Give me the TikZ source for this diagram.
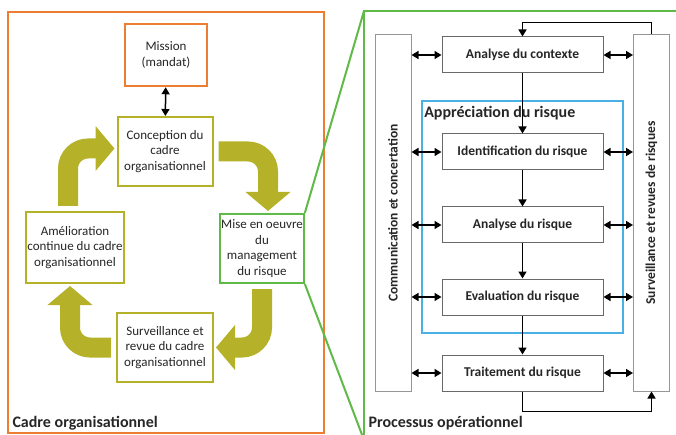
\documentclass[tikz,border=0pt]{standalone}
\usepackage{fontspec}
\setmainfont{Carlito}
\usetikzlibrary{arrows.meta}

\definecolor{cadreorange}{RGB}{237,125,49}
\definecolor{cycleolive}{RGB}{181,178,42}
\definecolor{processgreen}{RGB}{96,186,72}
\definecolor{apprecblue}{RGB}{72,176,226}
\definecolor{boxgray}{RGB}{105,105,105}
\definecolor{sidegray}{RGB}{150,150,150}

\tikzset{
  cyclebox/.style={draw=cycleolive, line width=2pt, fill=white, align=center,
    inner sep=1pt, minimum width=95pt, minimum height=69pt, text=black!85},
  cyclearrow/.style={cycleolive, line width=20pt, rounded corners=20pt,
    -{Triangle[length=19pt,width=44pt]}, shorten <=5pt, shorten >=2pt},
  boldtext/.style={font=\bfseries\fontsize{13.5}{16}\selectfont, text=black!85},
  titletext/.style={font=\bfseries\fontsize{16}{18}\selectfont, text=black!85},
  stepbox/.style={draw=boxgray, line width=1pt, fill=white, boldtext,
    minimum width=161pt, minimum height=36pt},
  sidebox/.style={draw=sidegray, line width=1pt, minimum width=36pt,
    minimum height=356pt},
  flow/.style={line width=1.5pt, -{Triangle[length=7pt,width=8pt]}},
  twoway/.style={line width=1.5pt,
    {Triangle[length=7pt,width=8pt]}-{Triangle[length=7pt,width=8pt]}}
}

\begin{document}
\begin{tikzpicture}[x=1pt, y=-1pt, font=\fontsize{13}{15.5}\selectfont]
  \useasboundingbox (0,0) rectangle (676,435);
  \clip (0,0) rectangle (676,435);

  %%%%%%%%%%%%%%%%%%%%%%%%%%%%%%%%%%%%%%%%%%%%%%
  %%% Cadre organisationnel (left part)
  %%%%%%%%%%%%%%%%%%%%%%%%%%%%%%%%%%%%%%%%%%%%%%
  \draw[cadreorange, line width=2.5pt] (8,12) rectangle (324,433);

  \node[draw=cadreorange, line width=2.5pt, fill=white, align=center,
    minimum width=82pt, minimum height=62pt, text=black!85] (mission) at (166,55)
    {Mission\\(mandat)};
  \node[cyclebox] (conception) at (165,151.5) {Conception du\\cadre\\organisationnel};
  \node[cyclebox, minimum width=96pt, minimum height=71pt] (amelioration) at (75,247.5)
    {Amélioration\\continue du cadre\\organisationnel};
  \node[cyclebox, draw=processgreen, minimum width=82pt] (miseoeuvre) at (262,248.5)
    {Mise en oeuvre\\du\\management\\du risque};
  \node[cyclebox, minimum width=96pt] (surveillance) at (165,347.5)
    {Surveillance et\\revue du cadre\\organisationnel};

  \draw[twoway] (mission) -- (conception);

  % the cycle, clockwise
  \draw[cyclearrow] ([xshift=-7pt]amelioration.north) |- ([yshift=3pt]conception.west);
  \draw[cyclearrow] (conception.east) -| ([xshift=6pt]miseoeuvre.north);
  \draw[cyclearrow] (miseoeuvre.south) |- (surveillance.east);
  \draw[cyclearrow] (surveillance.west) -| ([xshift=-5pt]amelioration.south);

  \node[anchor=west, titletext] (cadrelabel) at (9,423) {Cadre organisationnel};

  % frame of the right part, zoomed out of the mise en oeuvre box
  \coordinate (gtl) at (364,11);
  \coordinate (gbl) at (364,440);
  \coordinate (gtr) at (690,11);
  \draw[processgreen, line width=2.5pt] (gbl) -- (gtl) -- (gtr);
  \draw[processgreen, line width=2pt] (miseoeuvre.north east) -- (gtl);
  \draw[processgreen, line width=2pt] (miseoeuvre.south east) -- (gbl);

  %%%%%%%%%%%%%%%%%%%%%%%%%%%%%%%%%%%%%%%%%%%%%%
  %%% Processus operationnel (right part)
  %%%%%%%%%%%%%%%%%%%%%%%%%%%%%%%%%%%%%%%%%%%%%%
  \node[sidebox, label={[rotate=90, boldtext]center:Communication et concertation}]
    (communication) at (393,213) {};
  \node[sidebox, label={[rotate=90, boldtext]center:Surveillance et revues de risques}]
    (revues) at (651.5,213) {};

  \node[draw=apprecblue, line width=2.5pt, minimum width=201pt, minimum height=232pt,
    label={[anchor=north west, yshift=-3pt, titletext]north west:Appréciation du risque}]
    (appreciation) at (522.5,217) {};

  \node[stepbox] (contexte) at (522.5,55) {Analyse du contexte};
  \node[stepbox] (identif) at (522.5,152) {Identification du risque};
  \node[stepbox] (analyse) at (522.5,225) {Analyse du risque};
  \node[stepbox] (evaluation) at (522.5,297) {Evaluation du risque};
  \node[stepbox] (traitement) at (522.5,373) {Traitement du risque};

  % main flow
  \draw[flow] (contexte) -- (identif);
  \draw[flow] (identif) -- (analyse);
  \draw[flow] (analyse) -- (evaluation);
  \draw[flow] (evaluation) -- (traitement);

  % exchanges with the side boxes
  \foreach \s in {contexte,identif,analyse,evaluation,traitement}
  {
    \draw[twoway] (communication.east |- \s.west) -- (\s.west);
    \draw[twoway] (\s.east) -- (revues.west |- \s.east);
  }

  % feedback loops
  \draw[flow] (revues.north) -- ++(0,-12) -| (contexte.north);
  \draw[flow] (traitement.south) -- ++(0,20) -| (revues.south);

  \node[anchor=west, titletext] (processlabel) at (365,423) {Processus opérationnel};
\end{tikzpicture}
\end{document}
